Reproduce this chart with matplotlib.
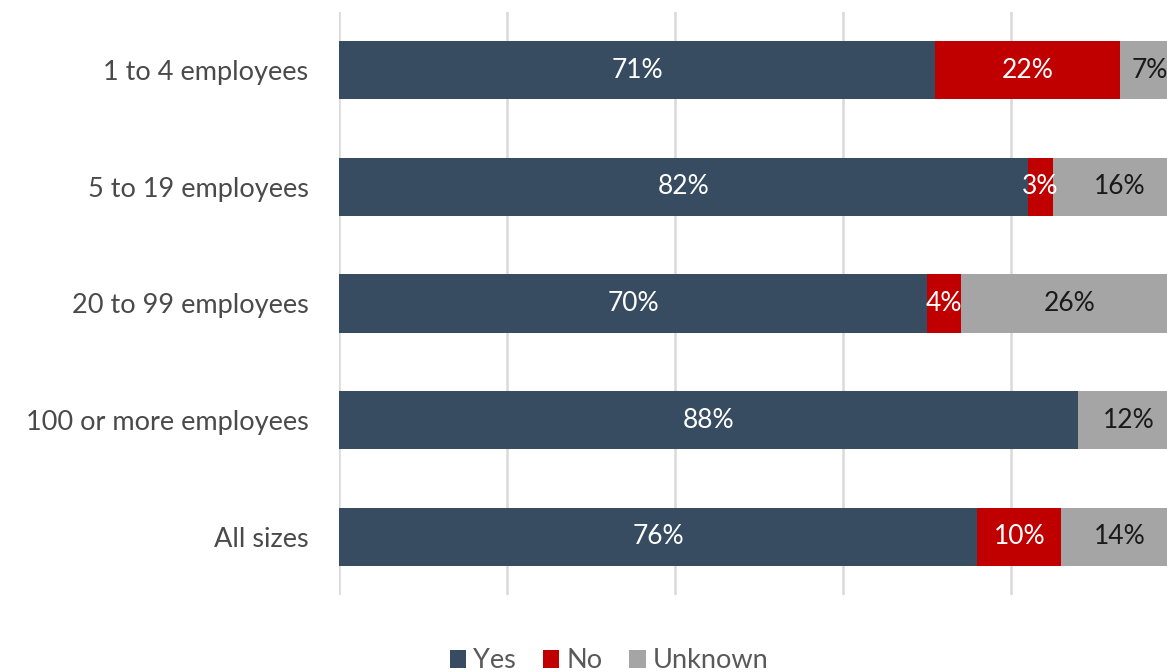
import numpy as np
import matplotlib.pyplot as plt

plt.rcParams['font.family'] = ['Lato', 'DejaVu Sans']

# survey share by business size (percent)
sizes = ["1 to 4 employees", "5 to 19 employees", "20 to 99 employees",
         "100 or more employees", "All sizes"]
yes = [71, 82, 70, 88, 76]
no = [22, 3, 4, 0, 10]
unknown = [7, 16, 26, 12, 14]

series = [("Yes", yes, "#374C61", "white"),
          ("No", no, "#C00000", "white"),
          ("Unknown", unknown, "#A5A5A5", "#1a1a1a")]

fig = plt.figure(figsize=(11.67, 6.72), dpi=100)
ax = fig.add_axes([339 / 1167, 1 - 595 / 672, 840 / 1167, 583 / 672])

y = np.arange(len(sizes))
left = np.zeros(len(sizes))
for name, vals, color, tcolor in series:
    vals = np.array(vals, dtype=float)
    ax.barh(y, vals, left=left, height=0.5, color=color, label=name, zorder=3)
    for yi, l, v in zip(y, left, vals):
        if v > 0:
            ax.text(l + v / 2, yi, f"{int(v)}%", ha="center", va="center",
                    color=tcolor, fontsize=19, zorder=4)
    left += vals

ax.set_xlim(0, 100)
ax.set_ylim(len(sizes) - 0.5, -0.5)
ax.set_xticks(np.arange(0, 101, 20))
ax.set_xticklabels([])
ax.tick_params(axis="x", length=0)
ax.tick_params(axis="y", length=0, pad=22, labelsize=19.5, labelcolor="#4a4a4a")
ax.set_yticks(y)
ax.set_yticklabels(sizes)
ax.grid(axis="x", color="#D9D9D9", linewidth=1.8, zorder=0)
for s in ax.spines.values():
    s.set_visible(False)

fig.legend(loc="center", bbox_to_anchor=(0.522, 1 - 661 / 672), ncol=3,
           frameon=False, fontsize=19.5, handlelength=0.6, handleheight=0.6,
           handletextpad=0.25, columnspacing=1.0, labelcolor="#595959",
           borderpad=0)

fig.savefig("out.png", dpi=100)
